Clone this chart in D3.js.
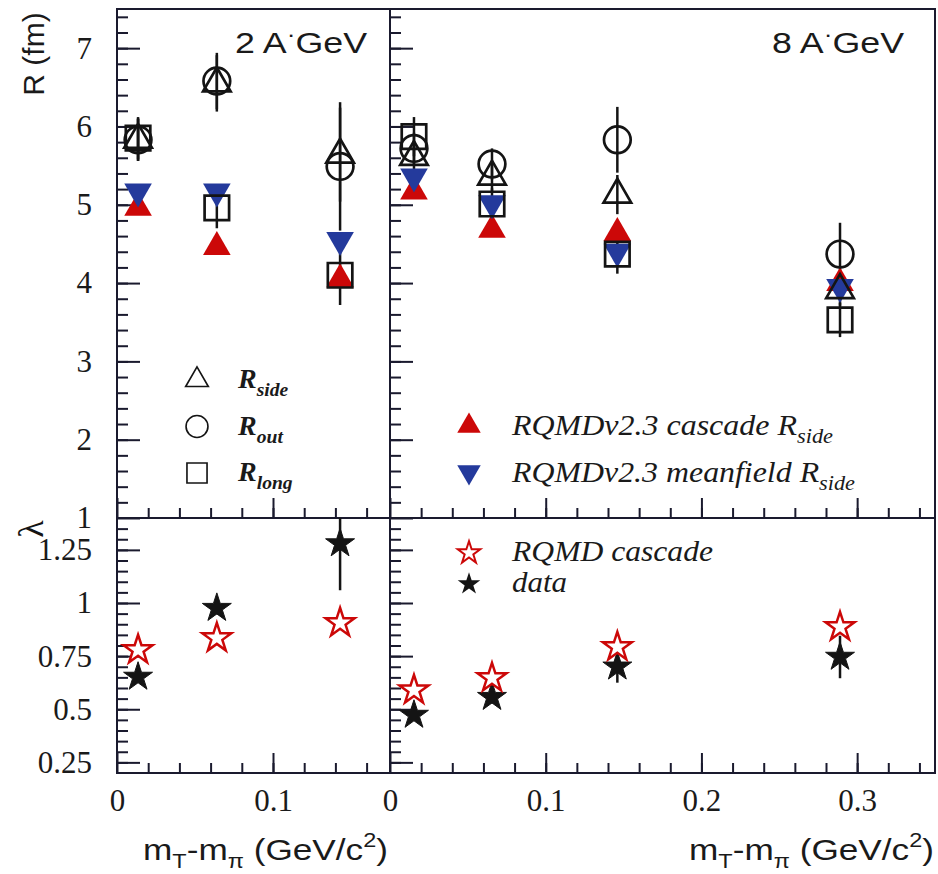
<!DOCTYPE html>
<html>
<head>
<meta charset="utf-8">
<title>HBT radii and lambda vs mT</title>
<script src="https://cdn.jsdelivr.net/npm/d3@7"></script>
<style>
  body { margin: 0; background: #fff; }
  .axis text { font-family: "Liberation Serif", "Times New Roman", serif; font-size: 31px; fill: #1a1a1a; }
  .axis line { stroke: #1a1a2e; stroke-width: 2; }
  .lbl { font-family: "Liberation Sans", Arial, sans-serif; fill: #1a1a1a; }
  .leg { font-family: "Liberation Serif", "Times New Roman", serif; font-style: italic; fill: #1a1a1a; }
</style>
</head>
<body>
<svg id="svg" width="938" height="874"></svg>
<script>
// ---- data ----
// m_T - m_pi (GeV/c^2)
const mtLow = [0.0135, 0.064, 0.143];          // 2 A GeV
const mtHigh = [0.0154, 0.0655, 0.146, 0.289]; // 8 A GeV

// 2 A GeV radii (fm)
const rSideLow = [5.83, 6.55, 5.64];
const rSideLowErr = [0.27, 0.36, 0.6];
const rOutLow = [5.83, 6.58, 5.49];
const rOutLowErr = [0.27, 0.36, 0.82];
const rLongLow = [5.85, 4.96, 4.1];
const rLongLowErr = [0.27, 0.26, 0.38];
const cascadeLow = [4.96, 4.46, 4.05];
const meanfieldLow = [5.17, 5.17, 4.55];

// 8 A GeV radii (fm)
const rSideHigh = [5.61, 5.36, 5.13, 3.91];
const rSideHighErr = [0.2, 0.2, 0.25, 0.2];
const rOutHigh = [5.72, 5.52, 5.83, 4.37];
const rOutHighErr = [0.2, 0.2, 0.42, 0.4];
const rLongHigh = [5.87, 5.01, 4.37, 3.53];
const rLongHighErr = [0.25, 0.2, 0.25, 0.22];
const cascadeHigh = [5.17, 4.68, 4.64, 4.0];
const meanfieldHigh = [5.36, 5.02, 4.4, 3.95];

// lambda
const lamDataLow = [0.652, 0.976, 1.28];
const lamDataLowErr = [0.02, 0.03, 0.22];
const lamCascLow = [0.779, 0.835, 0.906];
const lamDataHigh = [0.473, 0.557, 0.70, 0.746];
const lamDataHighErr = [0.02, 0.03, 0.075, 0.1];
const lamCascHigh = [0.59, 0.647, 0.793, 0.887];

// tick labels
const rTicks = [1, 2, 3, 4, 5, 6, 7];
const rTickLabels = ["1", "2", "3", "4", "5", "6", "7"];
const lamTicks = [0.25, 0.5, 0.75, 1, 1.25];
const lamTickLabels = ["0.25", "0.5", "0.75", "1", "1.25"];
const xLowTicks = [0, 0.1];
const xLowTickLabels = ["0", "0.1"];
const xHighTicks = [0, 0.1, 0.2, 0.3];
const xHighTickLabels = ["0", "0.1", "0.2", "0.3"];

// ---- layout ----
const topY = 9, midY = 518, botY = 773;
const leftX = 117, splitX = 390, rightX = 935;
const red = "#cc0808", blue = "#243a9c", ink = "#141414";

const svg = d3.select("#svg");

const xLow = d3.scaleLinear().domain([0, 0.175]).range([leftX, splitX]);
const xHigh = d3.scaleLinear().domain([0, 0.35]).range([splitX, rightX]);
const yR = d3.scaleLinear().domain([1, 7.5]).range([midY, topY]);
const yLam = d3.scaleLinear().domain([0.2, 1.4]).range([botY, midY]);

// clip paths for the four panels
const defs = svg.append("defs");
function clip(id, x0, x1, y0, y1) {
  defs.append("clipPath").attr("id", id)
    .append("rect").attr("x", x0).attr("y", y0).attr("width", x1 - x0).attr("height", y1 - y0);
  return svg.append("g").attr("clip-path", `url(#${id})`);
}

// y axes (ticks pointing inwards)
function yAxis(x0, y, major, labels, minor, showLabels) {
  svg.append("g").attr("class", "axis").attr("transform", `translate(${x0},0)`)
    .call(d3.axisLeft(y).tickValues(minor).tickSizeInner(-11).tickSizeOuter(0).tickFormat(""))
    .call(g => g.select(".domain").remove());
  svg.append("g").attr("class", "axis").attr("transform", `translate(${x0},0)`)
    .call(d3.axisLeft(y).tickValues(major).tickSizeInner(-23).tickSizeOuter(0).tickPadding(25)
      .tickFormat((d, i) => showLabels ? labels[i] : ""))
    .call(g => g.select(".domain").remove());
}

function xAxis(y0, x, major, labels, showLabels) {
  const minor = d3.range(0.02, x.domain()[1], 0.02);
  svg.append("g").attr("class", "axis").attr("transform", `translate(0,${y0})`)
    .call(d3.axisBottom(x).tickValues(minor).tickSizeInner(-10).tickSizeOuter(0).tickFormat(""))
    .call(g => g.select(".domain").remove());
  svg.append("g").attr("class", "axis").attr("transform", `translate(0,${y0})`)
    .call(d3.axisBottom(x).tickValues(major).tickSizeInner(-20).tickSizeOuter(0).tickPadding(16)
      .tickFormat((d, i) => showLabels ? labels[i] : ""))
    .call(g => g.select(".domain").remove());
}

const rMinor = d3.range(1.2, 7.5, 0.2);
const lamMinor = d3.range(0.25, 1.4, 0.05);

yAxis(leftX, yR, rTicks, rTickLabels, rMinor, true);
yAxis(splitX, yR, rTicks, rTickLabels, rMinor, false);
yAxis(leftX, yLam, lamTicks, lamTickLabels, lamMinor, true);
yAxis(splitX, yLam, lamTicks, lamTickLabels, lamMinor, false);
xAxis(midY, xLow, xLowTicks, xLowTickLabels, false);
xAxis(midY, xHigh, xHighTicks, xHighTickLabels, false);
xAxis(botY, xLow, xLowTicks, xLowTickLabels, true);
xAxis(botY, xHigh, xHighTicks, xHighTickLabels, true);

// frames
[[leftX, topY, splitX, midY], [splitX, topY, rightX, midY],
 [leftX, midY, splitX, botY], [splitX, midY, rightX, botY]].forEach(([x0, y0, x1, y1]) => {
  svg.append("rect").attr("x", x0).attr("y", y0).attr("width", x1 - x0).attr("height", y1 - y0)
    .attr("fill", "none").attr("stroke", "#1a1a2e").attr("stroke-width", 2);
});

// ---- marks ----
const sym = (type, size) => d3.symbol().type(type).size(size)();

function errBars(g, xs, vals, errs, x, y) {
  g.selectAll(null).data(vals).join("line")
    .attr("x1", (d, i) => x(xs[i])).attr("x2", (d, i) => x(xs[i]))
    .attr("y1", (d, i) => y(d - errs[i])).attr("y2", (d, i) => y(d + errs[i]))
    .attr("stroke", ink).attr("stroke-width", 2.5);
}

function points(g, xs, vals, x, y, path, fill, stroke, sw, rot) {
  g.selectAll(null).data(vals).join("path")
    .attr("d", path)
    .attr("transform", (d, i) => `translate(${x(xs[i])},${y(d)})` + (rot ? ` rotate(${rot})` : ""))
    .attr("fill", fill).attr("stroke", stroke).attr("stroke-width", sw);
}

const triUp = sym(d3.symbolTriangle, 330);
const circ = sym(d3.symbolCircle, 560);
const sq = sym(d3.symbolSquare, 600);
const star = sym(d3.symbolStar, 260);

function radiusPanel(g, xs, x, side, sideE, out, outE, lng, lngE, casc, mf) {
  errBars(g, xs, out, outE, x, yR);
  errBars(g, xs, side, sideE, x, yR);
  errBars(g, xs, lng, lngE, x, yR);
  points(g, xs, casc, x, yR, triUp, red, "none", 0);
  points(g, xs, mf, x, yR, triUp, blue, "none", 0, 180);
  points(g, xs, lng, x, yR, sq, "none", ink, 2.7);
  points(g, xs, out, x, yR, circ, "none", ink, 2.7);
  points(g, xs, side, x, yR, triUp, "none", ink, 2.7);
}

function lambdaPanel(g, xs, x, data, dataE, casc) {
  errBars(g, xs, data, dataE, x, yLam);
  points(g, xs, data, x, yLam, star, ink, ink, 1);
  points(g, xs, casc, x, yLam, star, "#fff", red, 2.5);
}

radiusPanel(clip("cTL", leftX, splitX, topY, midY), mtLow, xLow,
  rSideLow, rSideLowErr, rOutLow, rOutLowErr, rLongLow, rLongLowErr, cascadeLow, meanfieldLow);
radiusPanel(clip("cTR", splitX, rightX, topY, midY), mtHigh, xHigh,
  rSideHigh, rSideHighErr, rOutHigh, rOutHighErr, rLongHigh, rLongHighErr, cascadeHigh, meanfieldHigh);
lambdaPanel(clip("cBL", leftX, splitX, midY, botY), mtLow, xLow, lamDataLow, lamDataLowErr, lamCascLow);
lambdaPanel(clip("cBR", splitX, rightX, midY, botY), mtHigh, xHigh, lamDataHigh, lamDataHighErr, lamCascHigh);

// ---- titles and axis labels ----
function energyTitle(x0, num) {
  const t = svg.append("text").attr("class", "lbl").attr("x", x0).attr("y", 53)
    .attr("font-size", 30).attr("textLength", 132).attr("lengthAdjust", "spacingAndGlyphs");
  t.append("tspan").text(num + " A");
  t.append("tspan").attr("dy", -11).attr("font-size", 22).text("·");
  t.append("tspan").attr("dy", 11).text("GeV");
}
energyTitle(235, "2");
energyTitle(772, "8");

svg.append("text").attr("class", "lbl").attr("font-size", 30).attr("text-anchor", "middle")
  .attr("transform", "translate(44,54) rotate(-90)").text("R (fm)");
svg.append("text").attr("font-family", "Liberation Serif, serif").attr("font-size", 36)
  .attr("text-anchor", "middle").attr("fill", ink)
  .attr("transform", "translate(43,529) rotate(-90)").text("λ");

function mtLabel(x0) {
  const t = svg.append("text").attr("class", "lbl").attr("x", x0).attr("y", 860)
    .attr("font-size", 30).attr("textLength", 245).attr("lengthAdjust", "spacingAndGlyphs");
  t.append("tspan").text("m");
  t.append("tspan").attr("font-size", 20).attr("dy", 8).text("T");
  t.append("tspan").attr("dy", -8).text("-m");
  t.append("tspan").attr("font-size", 20).attr("dy", 8).text("π");
  t.append("tspan").attr("dy", -8).text(" (GeV/c");
  t.append("tspan").attr("font-size", 20).attr("dy", -13).text("2");
  t.append("tspan").attr("dy", 13).text(")");
}
mtLabel(143);
mtLabel(689);

// ---- legends ----
function subText(x0, y0, main, sub, size, bold, len) {
  const t = svg.append("text").attr("class", "leg").attr("x", x0).attr("y", y0)
    .attr("font-size", size).attr("font-weight", bold ? "bold" : "normal");
  if (len) t.attr("textLength", len).attr("lengthAdjust", "spacingAndGlyphs");
  t.append("tspan").text(main);
  if (sub) t.append("tspan").attr("font-size", size * 0.7).attr("dy", 8).text(sub);
}

const legR = [["R", "side", triUp], ["R", "out", circ], ["R", "long", sq]];
legR.forEach(([m, s, p], i) => {
  const cy = 380 + i * 46.5;
  svg.append("path").attr("d", p).attr("transform", `translate(197,${cy}) scale(0.82)`)
    .attr("fill", "none").attr("stroke", ink).attr("stroke-width", 2);
  subText(238, cy + 8, m, s, 28, true);
});

svg.append("path").attr("d", triUp).attr("transform", "translate(469,426) scale(0.85)").attr("fill", red);
subText(512, 435, "RQMDv2.3 cascade R", "side", 29, false, 321);
svg.append("path").attr("d", triUp).attr("transform", "translate(469,472) scale(0.85) rotate(180)").attr("fill", blue);
subText(512, 482, "RQMDv2.3 meanfield R", "side", 29, false, 343);

svg.append("path").attr("d", star).attr("transform", "translate(469,553) scale(0.78)")
  .attr("fill", "#fff").attr("stroke", red).attr("stroke-width", 2.5);
subText(512, 561, "RQMD cascade", null, 29, false, 201);
svg.append("path").attr("d", star).attr("transform", "translate(469,584) scale(0.78)").attr("fill", ink);
subText(512, 592, "data", null, 29, false, 55);
</script>
</body>
</html>
